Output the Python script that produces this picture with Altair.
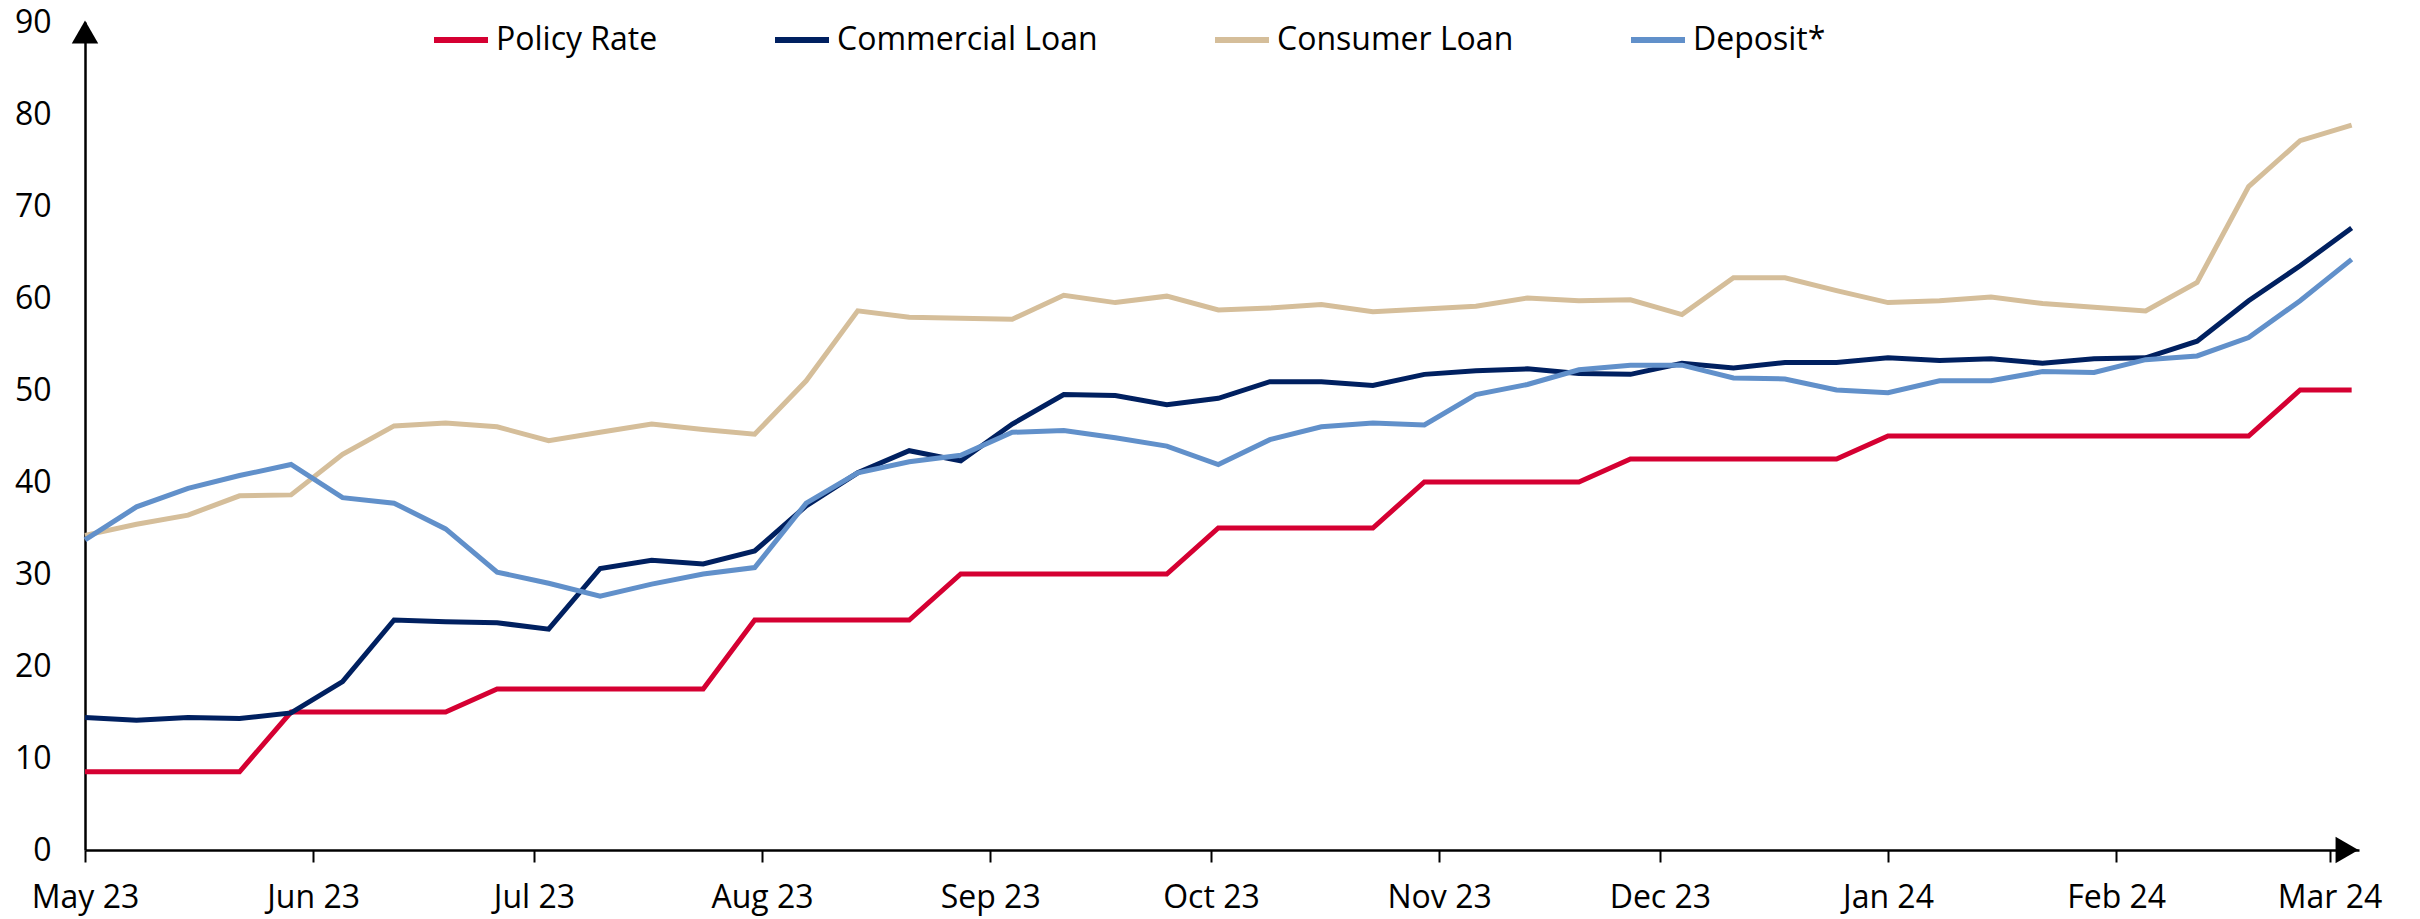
import altair as alt
import pandas as pd

series_names = ["Policy Rate", "Commercial Loan", "Consumer Loan", "Deposit*"]
series_colors = ["#D50032", "#002060", "#D5BE9A", "#6190CA"]

# weekly observations
dates = [d.strftime("%Y-%m-%d") for d in pd.date_range("2023-05-01", periods=45, freq="7D")]

policy_rate = [8.5, 8.5, 8.5, 8.5, 15, 15, 15, 15, 17.5, 17.5, 17.5, 17.5, 17.5,
               25, 25, 25, 25, 30, 30, 30, 30, 30, 35, 35, 35, 35, 40, 40, 40, 40,
               42.5, 42.5, 42.5, 42.5, 42.5, 45, 45, 45, 45, 45, 45, 45, 45, 50, 50]
commercial_loan = [14.4, 14.1, 14.4, 14.3, 14.9, 18.3, 25.0, 24.8, 24.7, 24.0,
                   30.6, 31.5, 31.1, 32.5, 37.4, 41.0, 43.4, 42.3, 46.3, 49.5,
                   49.4, 48.4, 49.1, 50.9, 50.9, 50.5, 51.7, 52.1, 52.3, 51.8,
                   51.7, 52.9, 52.4, 53.0, 53.0, 53.5, 53.2, 53.4, 52.9, 53.4,
                   53.5, 55.3, 59.7, 63.5, 67.6]
consumer_loan = [34.2, 35.4, 36.4, 38.5, 38.6, 43.0, 46.1, 46.4, 46.0, 44.5,
                 45.4, 46.3, 45.7, 45.2, 51.0, 58.6, 57.9, 57.8, 57.7, 60.3,
                 59.5, 60.2, 58.7, 58.9, 59.3, 58.5, 58.8, 59.1, 60.0, 59.7,
                 59.8, 58.2, 62.2, 62.2, 60.8, 59.5, 59.7, 60.1, 59.4, 59.0,
                 58.6, 61.7, 72.1, 77.1, 78.8]
deposit = [33.7, 37.3, 39.3, 40.7, 41.9, 38.3, 37.7, 34.9, 30.2, 29.0,
           27.6, 28.9, 30.0, 30.7, 37.7, 41.0, 42.2, 42.9, 45.4, 45.6,
           44.8, 43.9, 41.9, 44.6, 46.0, 46.4, 46.2, 49.5, 50.6, 52.2,
           52.7, 52.7, 51.3, 51.2, 50.0, 49.7, 51.0, 51.0, 52.0, 51.9,
           53.3, 53.7, 55.7, 59.7, 64.2]

tick_dates = ["2023-05-01", "2023-06-01", "2023-07-01", "2023-08-01", "2023-09-01",
              "2023-10-01", "2023-11-01", "2023-12-01", "2024-01-01", "2024-02-01",
              "2024-03-01"]
y_ticks = [0, 10, 20, 30, 40, 50, 60, 70, 80, 90]
x_start, x_end = "2023-05-01", "2024-03-05"
y_min, y_max = 0, 90

rows = []
for name, vals in zip(series_names, [policy_rate, commercial_loan, consumer_loan, deposit]):
    for d, v in zip(dates, vals):
        rows.append({"date": d, "series": name, "value": v})
df = pd.DataFrame(rows)

def dt(s):
    y, m, d = (int(p) for p in s.split("-"))
    return alt.DateTime(year=y, month=m, date=d, utc=True)

FONT = "Open Sans"

x_scale = alt.Scale(type="utc", domain=[dt(x_start), dt(x_end)])
y_scale = alt.Scale(domain=[y_min, y_max], nice=False, zero=False)

lines = alt.Chart(df).mark_line(strokeWidth=5, strokeJoin="miter").encode(
    x=alt.X("date:T", scale=x_scale, title=None,
            axis=alt.Axis(values=[dt(t) for t in tick_dates],
                          labelExpr="utcFormat(datum.value, '%b %y')",
                          labelFont=FONT, labelFontSize=32, labelColor="#000000",
                          labelPadding=20, tickSize=12, tickWidth=2, tickColor="#000000",
                          domainColor="#000000", domainWidth=2.5, grid=False,
                          labelFlush=False, labelOverlap=False)),
    y=alt.Y("value:Q", scale=y_scale, title=None,
            axis=alt.Axis(values=y_ticks, labelFont=FONT, labelFontSize=32, labelColor="#000000",
                          ticks=False, labelPadding=34, domainColor="#000000", domainWidth=2.5,
                          grid=False, labelFlush=False, labelOverlap=False)),
    color=alt.Color("series:N", scale=alt.Scale(domain=series_names, range=series_colors),
                    sort=series_names,
                    legend=alt.Legend(orient="none", legendX=346, legendY=-12, direction="horizontal",
                                      title=None, symbolType="stroke", symbolSize=2916,
                                      symbolStrokeWidth=6, labelFont=FONT, labelFontSize=32,
                                      labelColor="#000000", columnPadding=105, labelOffset=5,
                                      padding=0, labelLimit=400)),
    order=alt.Order("series_order:Q"),
).transform_calculate(
    series_order="indexof(" + str(series_names) + ", datum.series)"
)

y_arrow = alt.Chart(pd.DataFrame({"k": [0]})).mark_point(
    shape="triangle-up", filled=True, size=700, color="#000000", opacity=1, yOffset=10
).encode(x=alt.datum(dt(x_start)), y=alt.datum(y_max))

x_arrow = alt.Chart(pd.DataFrame({"k": [0]})).mark_point(
    shape="triangle-right", filled=True, size=700, color="#000000", opacity=1, xOffset=-12
).encode(x=alt.datum(dt(x_end)), y=alt.datum(y_min))

chart = alt.layer(lines, y_arrow, x_arrow).properties(
    width=2274, height=828,
    autosize=alt.AutoSizeParams(type="none"),
    padding={"left": 77, "top": 14, "right": 40, "bottom": 69},
    background="#ffffff",
).configure_view(stroke=None)

chart.save("out.html", embed_options={"renderer": "svg", "actions": False})
